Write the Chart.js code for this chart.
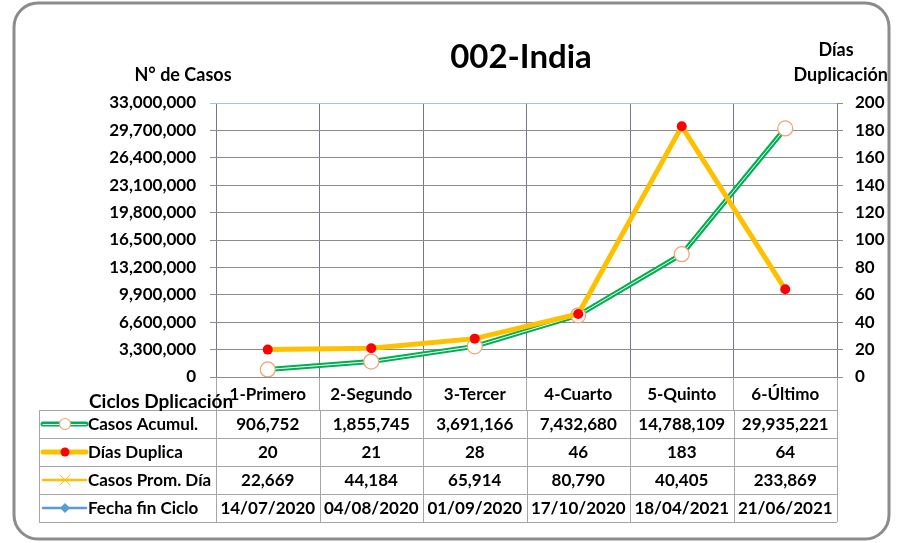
<!DOCTYPE html>
<html>
<head>
<meta charset="utf-8">
<script src="https://cdn.jsdelivr.net/npm/chart.js@4"></script>
<style>
  body { margin: 0; background: #fff; }
  #wrap { width: 900px; height: 543px; }
</style>
</head>
<body>
<div id="wrap"><canvas id="chart" width="900" height="543"></canvas></div>
<script>
// data
const ciclos = ['1-Primero', '2-Segundo', '3-Tercer', '4-Cuarto', '5-Quinto', '6-Último'];
const casosAcumul = [906752, 1855745, 3691166, 7432680, 14788109, 29935221];
const diasDuplica = [20, 21, 28, 46, 183, 64];
const casosPromDia = [22669, 44184, 65914, 80790, 40405, 233869];
const fechaFinCiclo = ['14/07/2020', '04/08/2020', '01/09/2020', '17/10/2020', '18/04/2021', '21/06/2021'];

const FONT = 'Lato, "Open Sans", sans-serif';
const GREEN = '#00B050';
const ORANGE = '#FFC000';
const RED = '#FF0000';
const MARKER = '#F2A477';

const fmt = v => v.toLocaleString('en-US');

// table, titles and frame drawn after the chart
const tablePlugin = {
    id: 'tablePlugin',
    afterDraw(chart) {
        const ctx = chart.ctx;
        const x = chart.scales.x;
        const area = chart.chartArea;
        const tableLeft = 39;
        const rowH = 28;
        const tableTop = 410;
        const n = ciclos.length;

        // column edges taken from the category scale
        const edges = [area.left];
        for (let i = 1; i < n; i++) {
            edges.push((x.getPixelForValue(i - 1) + x.getPixelForValue(i)) / 2);
        }
        edges.push(area.right);

        ctx.save();
        // grid of the data table
        ctx.strokeStyle = '#A6A6A6';
        ctx.lineWidth = 1;
        ctx.beginPath();
        for (let r = 0; r <= 4; r++) {
            const yy = Math.round(tableTop + r * rowH) + 0.5;
            ctx.moveTo(tableLeft, yy);
            ctx.lineTo(area.right, yy);
        }
        ctx.moveTo(tableLeft + 0.5, tableTop);
        ctx.lineTo(tableLeft + 0.5, tableTop + 4 * rowH);
        edges.forEach(e => {
            ctx.moveTo(Math.round(e) + 0.5, tableTop);
            ctx.lineTo(Math.round(e) + 0.5, tableTop + 4 * rowH);
        });
        ctx.stroke();

        const rows = [
            { name: 'Casos Acumul.', values: casosAcumul.map(fmt) },
            { name: 'Días Duplica', values: diasDuplica.map(fmt) },
            { name: 'Casos Prom. Día', values: casosPromDia.map(fmt) },
            { name: 'Fecha fin Ciclo', values: fechaFinCiclo }
        ];

        ctx.font = 'bold 17px ' + FONT;
        ctx.fillStyle = '#000';
        ctx.textBaseline = 'middle';
        rows.forEach((row, r) => {
            const cy = tableTop + r * rowH + rowH / 2 + 1;
            ctx.textAlign = 'left';
            ctx.fillText(row.name, 88, cy);
            ctx.textAlign = 'center';
            row.values.forEach((v, i) => {
                ctx.fillText(v, x.getPixelForValue(i), cy);
            });
        });

        // legend keys
        const kx1 = 43, kx2 = 86, km = 65;
        let cy = tableTop + rowH / 2;
        ctx.lineCap = 'round';
        ctx.strokeStyle = GREEN; ctx.lineWidth = 5;
        ctx.beginPath(); ctx.moveTo(kx1, cy); ctx.lineTo(kx2, cy); ctx.stroke();
        ctx.strokeStyle = '#fff'; ctx.lineWidth = 1;
        ctx.beginPath(); ctx.moveTo(kx1, cy + 0.5); ctx.lineTo(kx2, cy + 0.5); ctx.stroke();
        ctx.fillStyle = '#fff'; ctx.strokeStyle = MARKER; ctx.lineWidth = 1.2;
        ctx.beginPath(); ctx.arc(km, cy, 5.5, 0, Math.PI * 2); ctx.fill(); ctx.stroke();

        cy += rowH;
        ctx.strokeStyle = ORANGE; ctx.lineWidth = 5;
        ctx.beginPath(); ctx.moveTo(kx1, cy); ctx.lineTo(kx2, cy); ctx.stroke();
        ctx.fillStyle = RED;
        ctx.beginPath(); ctx.arc(km, cy, 4.5, 0, Math.PI * 2); ctx.fill();

        cy += rowH;
        ctx.strokeStyle = ORANGE; ctx.lineWidth = 2.5;
        ctx.beginPath(); ctx.moveTo(kx1, cy); ctx.lineTo(kx2, cy); ctx.stroke();
        ctx.lineWidth = 1;
        ctx.beginPath();
        ctx.moveTo(km - 5, cy - 5); ctx.lineTo(km + 5, cy + 5);
        ctx.moveTo(km - 5, cy + 5); ctx.lineTo(km + 5, cy - 5);
        ctx.stroke();

        cy += rowH;
        ctx.strokeStyle = '#5B9BD5'; ctx.lineWidth = 2.5;
        ctx.beginPath(); ctx.moveTo(kx1, cy); ctx.lineTo(kx2, cy); ctx.stroke();
        ctx.fillStyle = '#5B9BD5';
        ctx.beginPath();
        ctx.moveTo(km, cy - 5); ctx.lineTo(km + 5, cy); ctx.lineTo(km, cy + 5); ctx.lineTo(km - 5, cy);
        ctx.closePath(); ctx.fill();

        // titles
        ctx.fillStyle = '#000';
        ctx.textAlign = 'center';
        ctx.font = 'bold 33px ' + FONT;
        ctx.fillText('002-India', 521, 57);
        ctx.font = 'bold 18px ' + FONT;
        ctx.fillText('N° de Casos', 183, 75);
        ctx.fillText('Días', 836, 50);
        ctx.textAlign = 'right';
        ctx.fillText('Duplicación', 888, 75);
        ctx.textAlign = 'left';
        ctx.font = 'bold 19px ' + FONT;
        ctx.fillText('Ciclos Dplicación', 89, 402);

        // rounded frame
        ctx.strokeStyle = '#8C8C8C';
        ctx.lineWidth = 3;
        ctx.beginPath();
        ctx.roundRect(14, 3, 875, 536, 24);
        ctx.stroke();
        ctx.restore();
    }
};

new Chart(document.getElementById('chart'), {
    type: 'line',
    data: {
        labels: ciclos,
        datasets: [
            {
                label: 'Casos Acumul.',
                data: casosAcumul,
                yAxisID: 'y',
                borderColor: GREEN,
                borderWidth: 5,
                pointRadius: 0,
                tension: 0,
                order: 4
            },
            {
                label: 'Casos Acumul. (inner)',
                data: casosAcumul,
                yAxisID: 'y',
                borderColor: '#ffffff',
                borderWidth: 1,
                pointRadius: 0,
                tension: 0,
                order: 3
            },
            {
                label: 'Casos Acumul. (markers)',
                data: casosAcumul,
                yAxisID: 'y',
                showLine: false,
                pointRadius: 7.5,
                pointBackgroundColor: '#ffffff',
                pointBorderColor: MARKER,
                pointBorderWidth: 1.3,
                order: 2
            },
            {
                label: 'Días Duplica',
                data: diasDuplica,
                yAxisID: 'y2',
                borderColor: ORANGE,
                borderWidth: 5,
                pointRadius: 5,
                pointBackgroundColor: RED,
                pointBorderColor: RED,
                pointBorderWidth: 0,
                tension: 0,
                order: 1
            }
        ]
    },
    options: {
        responsive: false,
        animation: false,
        layout: {
            padding: { left: 0, right: 0, top: 103, bottom: 133 }
        },
        plugins: {
            legend: { display: false },
            title: { display: false },
            tooltip: { enabled: false }
        },
        scales: {
            x: {
                offset: true,
                grid: {
                    offset: true,
                    color: '#717788',
                    tickLength: 33,
                    tickColor: '#A6A6A6'
                },
                border: { display: false },
                ticks: {
                    color: '#000',
                    padding: -26,
                    font: { family: FONT, size: 17, weight: 'bold' }
                },
                afterFit(scale) { scale.height = 33; }
            },
            y: {
                position: 'left',
                min: 0,
                max: 33000000,
                grid: {
                    color: c => (c.tick && c.tick.value === 33000000) ? '#9DC3E6' : '#8C8C8C',
                    tickLength: 6
                },
                border: { display: false },
                ticks: {
                    stepSize: 3300000,
                    color: '#000',
                    padding: 14,
                    font: { family: FONT, size: 17, weight: 'bold' },
                    callback: v => fmt(v)
                },
                afterFit(scale) { scale.width = 216; }
            },
            y2: {
                position: 'right',
                min: 0,
                max: 200,
                grid: {
                    drawOnChartArea: false,
                    color: '#8C8C8C',
                    tickLength: 6
                },
                border: { display: false },
                ticks: {
                    stepSize: 20,
                    color: '#000',
                    padding: 12,
                    font: { family: FONT, size: 17, weight: 'bold' }
                },
                afterFit(scale) { scale.width = 63; }
            }
        }
    },
    plugins: [tablePlugin]
});
</script>
</body>
</html>
